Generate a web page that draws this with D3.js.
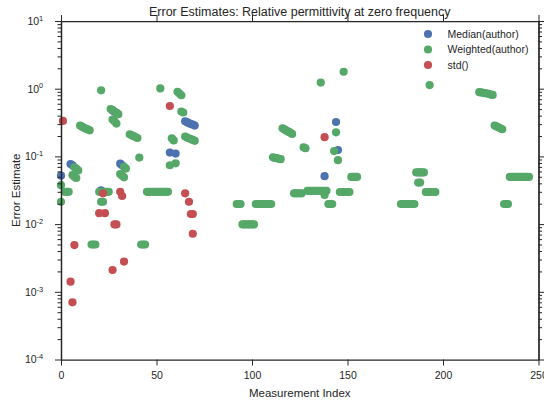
<!DOCTYPE html>
<html><head><meta charset="utf-8">
<script src="https://cdn.jsdelivr.net/npm/d3@7/dist/d3.min.js"></script>
<style>
html,body{margin:0;padding:0;background:#fff;}
svg text{font-family:"Liberation Sans",Arial,sans-serif;fill:#262626;}
</style></head>
<body><svg id="chart" width="544" height="404"></svg>
<script>
const title = "Error Estimates: Relative permittivity at zero frequency";
const xLabel = "Measurement Index";
const yLabel = "Error Estimate";
const seriesNames = ["Median(author)", "Weighted(author)", "std()"];
const seriesColors = ["#4C72B0", "#55A868", "#C44E52"];
const xTicks = [0, 50, 100, 150, 200, 250];
const yExponents = [-4, -3, -2, -1, 0, 1];

const medianIdx = [0,5,6,21,27,28,29,31,32,57,60,65,66,67,68,69,70,138,144,145,188];
const medianVal = [0.052,0.077,0.074,0.0315,0.475,0.455,0.44,0.078,0.074,0.114,0.110,0.33,0.32,0.31,0.30,0.295,0.285,0.051,0.322,0.124,0.058];

const weightedIdx = [0,0,2,3,4,6,7,8,7,8,9,10,11,12,13,14,15,16,17,18,
  20,21,22,23,24,25,21,22,21,26,27,29,30,27,28,29,33,34,31,32,33,
  36,37,38,39,40,41,42,43,44,45,46,47,48,49,50,51,52,53,54,55,56,52,
  57,58,59,60,61,62,63,63,64,65,66,67,68,69,70,
  92,93,94,95,96,97,98,99,100,101,102,103,104,105,106,107,108,109,110,
  111,112,113,114,115,116,117,118,119,120,121,122,123,124,125,126,127,128,
  129,130,131,132,133,134,135,136,137,138,139,138,136,140,141,142,143,144,145,
  146,147,148,149,150,151,148,152,153,154,155,
  178,179,180,181,182,183,184,185,186,187,189,190,187,188,191,192,193,194,195,196,193,
  219,220,221,222,223,224,225,226,227,228,229,230,231,232,233,234,
  235,236,237,238,239,240,241,242,243,244,245];
const weightedVal = [0.0376,0.0214,0.030,0.030,0.030,0.053,0.050,0.048,0.069,0.066,0.062,0.285,0.275,0.265,0.257,0.250,0.243,0.005,0.005,0.005,
  0.030,0.030,0.030,0.030,0.030,0.030,0.0214,0.0214,0.947,0.50,0.485,0.44,0.42,0.35,0.33,0.305,0.070,0.066,0.055,0.052,0.049,
  0.212,0.205,0.199,0.193,0.187,0.096,0.005,0.005,0.005,0.030,0.030,0.030,0.030,0.030,0.030,0.030,0.030,0.030,0.030,0.030,0.030,1.01,
  0.074,0.185,0.172,0.079,0.90,0.85,0.80,0.46,0.445,0.196,0.19,0.185,0.18,0.175,0.17,
  0.0198,0.0198,0.0198,0.0099,0.0099,0.0099,0.0099,0.0099,0.0099,0.0099,0.0198,0.0198,0.0198,0.0198,0.0198,0.0198,0.0198,0.0198,0.0198,
  0.097,0.095,0.094,0.092,0.091,0.26,0.25,0.24,0.232,0.224,0.215,0.0285,0.0285,0.0285,0.0285,0.0285,0.136,0.132,
  0.031,0.031,0.031,0.031,0.031,0.031,0.031,0.031,0.031,0.031,0.031,0.027,1.23,0.0198,0.0198,0.0198,0.120,0.227,0.088,
  0.0298,0.0298,0.0298,0.0298,0.0298,0.0298,1.78,0.0497,0.0497,0.0497,0.0497,
  0.0198,0.0198,0.0198,0.0198,0.0198,0.0198,0.0198,0.0198,0.058,0.058,0.058,0.058,0.041,0.041,0.0298,0.0298,0.0298,0.0298,0.0298,0.0298,1.13,
  0.89,0.88,0.87,0.86,0.85,0.84,0.82,0.81,0.285,0.277,0.269,0.26,0.252,0.0198,0.0198,0.0198,
  0.0497,0.0497,0.0497,0.0497,0.0497,0.0497,0.0497,0.0497,0.0497,0.0497,0.0497];

const stdIdx = [1,5,6,7,20,22,23,27,28,29,31,32,33,57,65,67,68,69,69,138];
const stdVal = [0.334,0.00141,0.0007,0.0049,0.0145,0.0285,0.0145,0.0021,0.0099,0.0099,0.030,0.026,0.0028,0.555,0.0285,0.0214,0.0141,0.0141,0.0072,0.192];

const series = [
  {idx: medianIdx, val: medianVal},
  {idx: weightedIdx, val: weightedVal},
  {idx: stdIdx, val: stdVal}
];

const W = 544, H = 404;
const m = {left: 61, right: 5.5, top: 21, bottom: 44.5};
const svg = d3.select("#chart");
const x = d3.scaleLinear().domain([0, 250]).range([m.left, W - m.right]);
const y = d3.scaleLog().domain([1e-4, 10]).range([H - m.bottom, m.top]);

const majors = yExponents.map(e => Math.pow(10, e));
const minors = [];
for (let e = -4; e < 1; e++) for (let k = 2; k <= 9; k++) minors.push(k * Math.pow(10, e));

const axisColor = "#262626";
function style(g) {
  g.select(".domain").attr("stroke", axisColor).attr("stroke-width", 1.25);
  g.selectAll(".tick line").attr("stroke", axisColor).attr("stroke-width", 1);
}

// markers
series.forEach((s, si) => {
  svg.append("g").selectAll("circle")
    .data(s.idx.map((d, i) => [d, s.val[i]]))
    .join("circle")
    .attr("cx", d => x(d[0]))
    .attr("cy", d => y(d[1]))
    .attr("r", 4.1)
    .attr("fill", seriesColors[si]);
});

// x axes
const gb = svg.append("g").attr("transform", `translate(0,${H - m.bottom})`)
  .call(d3.axisBottom(x).tickValues(xTicks).tickSize(6).tickSizeOuter(0).tickPadding(6).tickFormat(d3.format("d")));
gb.selectAll(".tick text").attr("font-size", "10.5px");
style(gb);
const gt = svg.append("g").attr("transform", `translate(0,${m.top})`)
  .call(d3.axisTop(x).tickValues(xTicks).tickSize(6).tickSizeOuter(0).tickFormat(""));
style(gt);

// y axes
function yAxisPair(side) {
  const pos = side === "left" ? m.left : W - m.right;
  const mk = side === "left" ? d3.axisLeft : d3.axisRight;
  const g1 = svg.append("g").attr("transform", `translate(${pos},0)`)
    .call(mk(y).tickValues(minors).tickSize(3.5).tickSizeOuter(0).tickFormat(""));
  style(g1);
  const g2 = svg.append("g").attr("transform", `translate(${pos},0)`)
    .call(mk(y).tickValues(majors).tickSize(6).tickSizeOuter(0).tickPadding(6)
      .tickFormat(side === "left" ? (() => "10") : (() => "")));
  style(g2);
  return g2;
}
const gl = yAxisPair("left");
yAxisPair("right");
gl.selectAll(".tick text").attr("font-size", "10.5px").attr("dx", "-0.55em").each(function(d) {
  const e = Math.round(Math.log10(d));
  d3.select(this).append("tspan").attr("dy", "-0.55em").attr("font-size", "7.5px").text(String(e).replace("-", "-"));
});

// title and labels
svg.append("text").attr("x", (m.left + W - m.right) / 2).attr("y", 16)
  .attr("text-anchor", "middle").attr("font-size", "12.5px").text(title);
svg.append("text").attr("x", (m.left + W - m.right) / 2).attr("y", 397)
  .attr("text-anchor", "middle").attr("font-size", "11.5px").text(xLabel);
svg.append("text").attr("transform", `translate(20,${(m.top + H - m.bottom) / 2}) rotate(-90)`)
  .attr("text-anchor", "middle").attr("font-size", "11.5px").text(yLabel);

// legend
const lg = svg.append("g");
seriesNames.forEach((n, i) => {
  const yy = 34 + i * 15.5;
  lg.append("circle").attr("cx", 428).attr("cy", yy).attr("r", 4.1).attr("fill", seriesColors[i]);
  lg.append("text").attr("x", 447.5).attr("y", yy + 3.8).attr("font-size", "10.5px").text(n);
});
</script></body></html>
